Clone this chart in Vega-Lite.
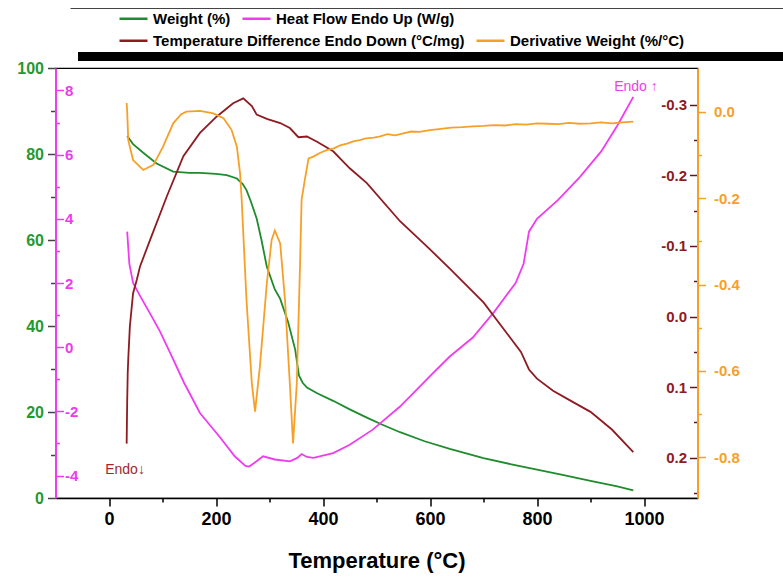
{
  "$schema": "https://vega.github.io/schema/vega-lite/v6.json",
  "width": 642,
  "height": 430,
  "autosize": {"type": "none"},
  "padding": {"left": 55.5, "top": 68, "right": 85.5, "bottom": 81},
  "background": "white",
  "config": {
    "view": {"stroke": "black", "strokeWidth": 1.2},
    "font": "Liberation Sans"
  },
  "datasets": {
    "weight": [
      {"T": 34, "v": 84.2}, {"T": 45, "v": 82.3}, {"T": 64, "v": 80.3}, {"T": 89, "v": 77.8},
      {"T": 120, "v": 75.9}, {"T": 150, "v": 75.6}, {"T": 170, "v": 75.6}, {"T": 200, "v": 75.4},
      {"T": 220, "v": 75.1}, {"T": 239, "v": 74.3}, {"T": 250, "v": 73.0}, {"T": 257, "v": 71.6},
      {"T": 265, "v": 69.0}, {"T": 276, "v": 65.0}, {"T": 285, "v": 60.0}, {"T": 295, "v": 53.8},
      {"T": 310, "v": 48.5}, {"T": 320, "v": 46.3}, {"T": 335, "v": 40.8}, {"T": 348, "v": 34.5},
      {"T": 355, "v": 28.5}, {"T": 362, "v": 26.8}, {"T": 370, "v": 25.7}, {"T": 390, "v": 24.3},
      {"T": 419, "v": 22.6}, {"T": 450, "v": 20.6}, {"T": 482, "v": 18.7}, {"T": 510, "v": 17.1},
      {"T": 544, "v": 15.3}, {"T": 590, "v": 13.2}, {"T": 637, "v": 11.4}, {"T": 700, "v": 9.3},
      {"T": 750, "v": 7.9}, {"T": 800, "v": 6.6}, {"T": 850, "v": 5.3}, {"T": 900, "v": 4.0},
      {"T": 950, "v": 2.7}, {"T": 980, "v": 1.8}
    ],
    "heat": [
      {"T": 34, "v": 3.6}, {"T": 38, "v": 2.6}, {"T": 45, "v": 2.0}, {"T": 58, "v": 1.6},
      {"T": 75, "v": 1.1}, {"T": 95, "v": 0.5}, {"T": 115, "v": -0.2}, {"T": 140, "v": -1.1},
      {"T": 170, "v": -2.05}, {"T": 207, "v": -2.8}, {"T": 235, "v": -3.4}, {"T": 255, "v": -3.7},
      {"T": 262, "v": -3.72}, {"T": 272, "v": -3.6}, {"T": 288, "v": -3.4}, {"T": 310, "v": -3.5},
      {"T": 338, "v": -3.56}, {"T": 352, "v": -3.45}, {"T": 360, "v": -3.33}, {"T": 370, "v": -3.42},
      {"T": 382, "v": -3.45}, {"T": 419, "v": -3.3}, {"T": 450, "v": -3.04}, {"T": 493, "v": -2.57},
      {"T": 544, "v": -1.85}, {"T": 606, "v": -0.8}, {"T": 637, "v": -0.29}, {"T": 680, "v": 0.3},
      {"T": 720, "v": 1.1}, {"T": 760, "v": 2.0}, {"T": 775, "v": 2.6}, {"T": 785, "v": 3.6},
      {"T": 800, "v": 4.0}, {"T": 840, "v": 4.6}, {"T": 880, "v": 5.3}, {"T": 920, "v": 6.1},
      {"T": 950, "v": 6.9}, {"T": 980, "v": 7.8}
    ],
    "tempdiff": [
      {"T": 33, "v": 0.18}, {"T": 34, "v": 0.12}, {"T": 35, "v": 0.08}, {"T": 36, "v": 0.06},
      {"T": 39, "v": 0.014}, {"T": 45, "v": -0.033}, {"T": 52, "v": -0.052}, {"T": 58, "v": -0.071},
      {"T": 77, "v": -0.109}, {"T": 108, "v": -0.17}, {"T": 139, "v": -0.227}, {"T": 170, "v": -0.26},
      {"T": 201, "v": -0.283}, {"T": 232, "v": -0.302}, {"T": 251, "v": -0.309}, {"T": 267, "v": -0.298},
      {"T": 276, "v": -0.286}, {"T": 295, "v": -0.28}, {"T": 320, "v": -0.274}, {"T": 338, "v": -0.267},
      {"T": 354, "v": -0.254}, {"T": 370, "v": -0.255}, {"T": 388, "v": -0.248}, {"T": 419, "v": -0.234},
      {"T": 450, "v": -0.21}, {"T": 482, "v": -0.189}, {"T": 544, "v": -0.135}, {"T": 600, "v": -0.095},
      {"T": 637, "v": -0.068}, {"T": 700, "v": -0.02}, {"T": 750, "v": 0.03}, {"T": 770, "v": 0.05},
      {"T": 785, "v": 0.075}, {"T": 800, "v": 0.088}, {"T": 830, "v": 0.105}, {"T": 860, "v": 0.118},
      {"T": 900, "v": 0.135}, {"T": 940, "v": 0.16}, {"T": 980, "v": 0.192}
    ],
    "deriv": [
      {"T": 33, "v": 0.02}, {"T": 34, "v": 0.0}, {"T": 36, "v": -0.066}, {"T": 45, "v": -0.112},
      {"T": 64, "v": -0.135}, {"T": 83, "v": -0.123}, {"T": 101, "v": -0.081}, {"T": 120, "v": -0.027},
      {"T": 135, "v": -0.006}, {"T": 145, "v": 0.0}, {"T": 170, "v": 0.002}, {"T": 195, "v": -0.004},
      {"T": 214, "v": -0.015}, {"T": 229, "v": -0.042}, {"T": 239, "v": -0.081}, {"T": 245, "v": -0.143},
      {"T": 248, "v": -0.204}, {"T": 257, "v": -0.436}, {"T": 267, "v": -0.629}, {"T": 273, "v": -0.694},
      {"T": 282, "v": -0.59}, {"T": 295, "v": -0.397}, {"T": 304, "v": -0.297}, {"T": 310, "v": -0.275},
      {"T": 320, "v": -0.305}, {"T": 329, "v": -0.436}, {"T": 338, "v": -0.629}, {"T": 344, "v": -0.768},
      {"T": 351, "v": -0.629}, {"T": 357, "v": -0.359}, {"T": 360, "v": -0.204}, {"T": 366, "v": -0.158},
      {"T": 373, "v": -0.108}, {"T": 382, "v": -0.104}, {"T": 395, "v": -0.095}, {"T": 407, "v": -0.089},
      {"T": 420, "v": -0.085}, {"T": 432, "v": -0.078}, {"T": 445, "v": -0.074}, {"T": 458, "v": -0.068},
      {"T": 469, "v": -0.066}, {"T": 480, "v": -0.062}, {"T": 495, "v": -0.06}, {"T": 507, "v": -0.057},
      {"T": 520, "v": -0.052}, {"T": 535, "v": -0.055}, {"T": 550, "v": -0.05}, {"T": 565, "v": -0.046},
      {"T": 580, "v": -0.047}, {"T": 600, "v": -0.043}, {"T": 620, "v": -0.04}, {"T": 640, "v": -0.037},
      {"T": 660, "v": -0.036}, {"T": 680, "v": -0.034}, {"T": 700, "v": -0.033}, {"T": 720, "v": -0.031},
      {"T": 740, "v": -0.032}, {"T": 760, "v": -0.029}, {"T": 780, "v": -0.03}, {"T": 800, "v": -0.027},
      {"T": 820, "v": -0.028}, {"T": 840, "v": -0.029}, {"T": 860, "v": -0.026}, {"T": 880, "v": -0.028},
      {"T": 900, "v": -0.027}, {"T": 920, "v": -0.025}, {"T": 940, "v": -0.027}, {"T": 960, "v": -0.025},
      {"T": 980, "v": -0.023}
    ],
    "notes_down": [{"T": 30, "v": 6.5, "t": "Endo↓"}],
    "notes_up": [{"T": 985, "v": 95.6, "t": "Endo ↑"}]
  },
  "encoding": {
    "x": {
      "field": "T", "type": "quantitative",
      "scale": {"domain": [-100, 1100], "nice": false, "zero": false},
      "axis": null
    }
  },
  "layer": [
    {
      "data": {"name": "weight"},
      "mark": {"type": "line", "strokeWidth": 1.8},
      "encoding": {
        "x": {
          "field": "T", "type": "quantitative",
          "scale": {"domain": [-100, 1100], "nice": false, "zero": false},
          "axis": {
            "values": [0, 100, 200, 300, 400, 500, 600, 700, 800, 900, 1000],
            "tickSize": {"condition": {"test": "datum.value % 200 !== 0", "value": 4}, "value": 8},
            "labelExpr": "datum.value % 200 === 0 ? datum.label : ''",
            "format": "d",
            "labelFont": "Liberation Sans", "labelFontSize": 18, "labelFontWeight": "bold", "labelColor": "black",
            "labelPadding": 4, "labelOverlap": false, "labelFlush": false,
            "title": "Temperature (°C)", "titleFont": "Liberation Sans", "titleFontSize": 22, "titleFontWeight": "bold",
            "titleColor": "black", "titlePadding": 22,
            "domainColor": "black", "domainWidth": 1.5, "tickColor": "black", "tickWidth": 1.5, "grid": false
          }
        },
        "y": {
          "field": "v", "type": "quantitative",
          "scale": {"domain": [0, 100], "nice": false},
          "axis": {
            "orient": "left", "offset": 0, "title": null, "grid": false, "domain": false,
            "values": [0, 10, 20, 30, 40, 50, 60, 70, 80, 90, 100],
            "tickSize": {"condition": {"test": "datum.value % 20 !== 0", "value": 5}, "value": 8},
            "labelExpr": "datum.value % 20 === 0 ? datum.label : ''",
            "labelFont": "Liberation Sans", "labelFontSize": 16, "labelFontWeight": "bold",
            "labelColor": "#1f9a2f", "labelPadding": 4, "labelOverlap": false,
            "tickColor": "#444444", "tickWidth": 1.5
          }
        },
        "color": {
          "datum": "Weight (%)", "type": "nominal",
          "scale": {
            "domain": ["Weight (%)", "Heat Flow Endo Up (W/g)"],
            "range": ["#1e8c2c", "#f03cf0"]
          },
          "legend": {
            "orient": "none", "legendX": 62.5, "legendY": -65,
            "direction": "horizontal",
            "title": null, "symbolType": "M-1,0L1,0", "symbolSize": 784, "symbolStrokeWidth": 2.5,
            "labelFont": "Liberation Sans", "labelFontSize": 15, "labelFontWeight": "bold", "labelColor": "black",
            "labelOffset": 4, "labelLimit": 0, "columnPadding": 6,
            "padding": 0
          }
        }
      }
    },
    {
      "data": {"name": "heat"},
      "mark": {"type": "line", "strokeWidth": 1.8},
      "encoding": {
        "x": {
          "field": "T", "type": "quantitative",
          "scale": {"domain": [-100, 1100], "nice": false, "zero": false},
          "axis": {
            "orient": "top", "offset": 12, "position": 141,
            "domainColor": "black", "domainWidth": 9,
            "ticks": false, "labels": false, "title": null, "grid": false
          }
        },
        "y": {
          "field": "v", "type": "quantitative",
          "scale": {"domain": [-4.7, 8.7], "nice": false, "zero": false},
          "axis": {
            "orient": "right", "offset": -642, "title": null, "grid": false,
            "values": [-4, -3, -2, -1, 0, 1, 2, 3, 4, 5, 6, 7, 8],
            "tickSize": {"condition": {"test": "datum.value % 2 !== 0", "value": 4}, "value": 8},
            "labelExpr": "datum.value % 2 === 0 ? replace(datum.label, '−', '-') : ''",
            "format": "d",
            "labelFont": "Liberation Sans", "labelFontSize": 15, "labelFontWeight": "bold",
            "labelColor": "#ee3aee", "labelPadding": 1, "labelOverlap": false,
            "tickColor": "#ee3aee", "tickWidth": 1.5,
            "domainColor": "#f03cf0", "domainWidth": 2
          }
        },
        "color": {"datum": "Heat Flow Endo Up (W/g)", "type": "nominal"}
      }
    },
    {
      "data": {"name": "tempdiff"},
      "mark": {"type": "line", "strokeWidth": 1.8},
      "encoding": {
        "y": {
          "field": "v", "type": "quantitative",
          "scale": {"domain": [-0.352, 0.257], "nice": false, "zero": false, "reverse": true},
          "axis": {
            "orient": "left", "offset": -642, "title": null, "grid": false, "domain": false,
            "values": [-0.3, -0.25, -0.2, -0.15, -0.1, -0.05, 0, 0.05, 0.1, 0.15, 0.2, 0.25],
            "tickSize": {"condition": {"test": "abs(round(datum.value * 100)) % 10 !== 0", "value": 4}, "value": 8},
            "labelExpr": "abs(round(datum.value * 100)) % 10 === 0 ? replace(format(datum.value, '.1f'), '−', '-') : ''",
            "labelFont": "Liberation Sans", "labelFontSize": 15, "labelFontWeight": "bold",
            "labelColor": "#8e1b22", "labelPadding": 3, "labelOverlap": false,
            "tickColor": "#5a1a1f", "tickWidth": 1.5
          }
        },
        "stroke": {
          "datum": "Temperature Difference Endo Down (°C/mg)", "type": "nominal",
          "scale": {
            "domain": ["Temperature Difference Endo Down (°C/mg)", "Derivative Weight (%/°C)"],
            "range": ["#8e1b22", "#f7a027"]
          },
          "legend": {
            "orient": "none", "legendX": 62.5, "legendY": -43,
            "direction": "horizontal",
            "title": null, "symbolType": "M-1,0L1,0", "symbolSize": 784, "symbolStrokeWidth": 2.5,
            "labelFont": "Liberation Sans", "labelFontSize": 15, "labelFontWeight": "bold", "labelColor": "black",
            "labelOffset": 4, "labelLimit": 0, "columnPadding": 6,
            "padding": 0
          }
        }
      }
    },
    {
      "data": {"name": "deriv"},
      "mark": {"type": "line", "strokeWidth": 1.8},
      "encoding": {
        "x": {
          "field": "T", "type": "quantitative",
          "scale": {"domain": [-100, 1100], "nice": false, "zero": false},
          "axis": {
            "orient": "top", "offset": 12, "position": 22,
            "domainColor": "black", "domainWidth": 9,
            "ticks": false, "labels": false, "title": null, "grid": false
          }
        },
        "y": {
          "field": "v", "type": "quantitative",
          "scale": {"domain": [-0.894, 0.101], "nice": false, "zero": false},
          "axis": {
            "orient": "right", "offset": 0, "title": null, "grid": false,
            "values": [-0.8, -0.7, -0.6, -0.5, -0.4, -0.3, -0.2, -0.1, 0],
            "tickSize": {"condition": {"test": "abs(round(datum.value * 10)) % 2 !== 0", "value": 4}, "value": 8},
            "labelExpr": "abs(round(datum.value * 10)) % 2 === 0 ? replace(format(datum.value, '.1f'), '−', '-') : ''",
            "labelFont": "Liberation Sans", "labelFontSize": 15, "labelFontWeight": "bold",
            "labelColor": "#f7a027", "labelPadding": 8, "labelOverlap": false,
            "tickColor": "#f7a027", "tickWidth": 1.5,
            "domainColor": "#f7a027", "domainWidth": 2
          }
        },
        "stroke": {"datum": "Derivative Weight (%/°C)", "type": "nominal"}
      }
    },
    {
      "data": {"name": "notes_down"},
      "mark": {"type": "text", "color": "#a02830", "fontSize": 14, "font": "Liberation Sans"},
      "encoding": {
        "x": {
          "field": "T", "type": "quantitative",
          "scale": {"domain": [-100, 1100], "nice": false, "zero": false},
          "axis": {
            "orient": "top", "offset": 60, "position": 14.5,
            "domainColor": "#444444", "domainWidth": 1.2,
            "ticks": false, "labels": false, "title": null, "grid": false
          }
        },
        "y": {"field": "v", "type": "quantitative", "scale": {"domain": [0, 100], "nice": false}, "axis": null},
        "text": {"field": "t"}
      }
    },
    {
      "data": {"name": "notes_up"},
      "mark": {"type": "text", "color": "#f03cf0", "fontSize": 14, "font": "Liberation Sans"},
      "encoding": {
        "x": {
          "field": "T", "type": "quantitative",
          "scale": {"domain": [-100, 1100], "nice": false, "zero": false},
          "axis": {
            "orient": "top", "offset": 60, "position": 141,
            "domainColor": "#444444", "domainWidth": 1.2,
            "ticks": false, "labels": false, "title": null, "grid": false
          }
        },
        "y": {"field": "v", "type": "quantitative", "scale": {"domain": [0, 100], "nice": false}, "axis": null},
        "text": {"field": "t"}
      }
    }
  ],
  "resolve": {
    "scale": {"y": "independent"},
    "axis": {"y": "independent", "x": "independent"}
  }
}
